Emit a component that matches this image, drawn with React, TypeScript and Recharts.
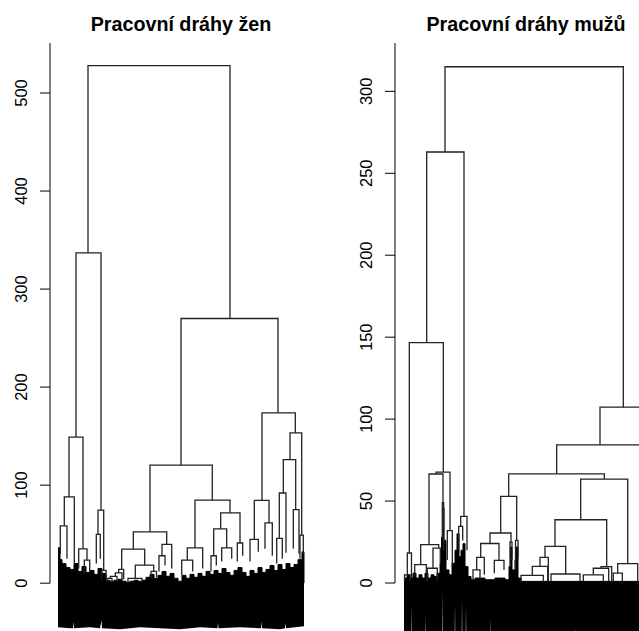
import React from 'react';
import { ComposedChart, Line, Area, XAxis, YAxis, ReferenceLine } from 'recharts';

// merges: [xLeft, xRight, height, leftChildHeight, rightChildHeight]
// x is leaf-order position, height is the merge distance
const womenMerges: number[][] = [
  [38, 180, 528, 337, 270],
  [26, 51, 337, 149, 74.5],
  [19, 33, 149, 88, 35],
  [14.3, 24.3, 88, 58.5, 20],
  [10.3, 17, 58.5, 30, 25],
  [28.7, 37, 35, 15, 23.5],
  [34.3, 39.7, 23.5, 10, 12],
  [48, 53.7, 74.5, 49.7, 13],
  [46.3, 50.3, 49.7, 20, 25],
  [51.5, 56, 13, 3, 5],
  [131, 228, 270, 120.4, 173.8],
  [100, 162.3, 120.4, 52.4, 84.7],
  [83.3, 116.7, 52.4, 34.7, 39.5],
  [71.7, 94.7, 34.7, 14, 18.4],
  [68.7, 73.7, 14, 10.5, 4],
  [65.3, 72, 10.5, 7, 3],
  [60.3, 67, 7, 5, 2],
  [57, 62, 5, 1, 1],
  [85.3, 103.7, 18.4, 5, 12],
  [78, 92, 5, 1, 1],
  [101, 106.5, 12, 5, 6],
  [112, 121.7, 39.5, 28, 15],
  [109, 115, 28, 12, 18],
  [145, 180, 84.7, 36, 71.7],
  [137.3, 152.7, 36, 23.5, 15],
  [131.7, 142.7, 23.5, 8, 12],
  [170.7, 190, 71.7, 55.4, 41],
  [163.7, 176.7, 55.4, 28, 36],
  [161, 166.3, 28, 12, 18],
  [171.7, 181.7, 36, 22, 25],
  [187.3, 192.7, 41, 22, 28],
  [212, 245.3, 173.8, 84.4, 153.4],
  [204.3, 219, 84.4, 44.6, 61.5],
  [200, 208.3, 44.6, 22, 32],
  [215, 222.3, 61.5, 35, 28],
  [240, 251.7, 153.4, 126, 49],
  [233.3, 245.7, 126, 92, 75],
  [229.3, 236, 92, 45.6, 31],
  [226.7, 232.3, 45.6, 20, 25],
  [243.3, 249, 75, 35, 30],
  [250, 253.3, 49, 25, 30],
];

const menMerges: number[][] = [
  [50, 228.3, 315, 263, 107.3],
  [31.7, 69, 263, 146.7, 40.6],
  [14.3, 48.3, 146.7, 18.3, 67.7],
  [12.3, 16.5, 18.3, 5, 3],
  [9.5, 15, 5, 1, 1],
  [41, 55, 67.7, 66.5, 32],
  [34, 48, 66.5, 23.4, 49],
  [25.7, 43.7, 23.4, 11.2, 21.3],
  [19.7, 31.3, 11.2, 4, 6],
  [38, 45.3, 21.3, 9, 12],
  [32.3, 42.3, 9, 1, 1],
  [47.3, 48.7, 49, 27, 20],
  [52.3, 57.3, 32, 14, 10],
  [65.7, 72, 40.6, 34.5, 20],
  [63.7, 67.7, 34.5, 20, 26],
  [205, 251.6, 107.3, 84.3, 60],
  [161.7, 248.3, 84.3, 66.6, 40],
  [113.7, 209.3, 66.6, 52.8, 63.4],
  [105.7, 121.7, 52.8, 30.5, 26],
  [95, 116, 30.5, 24.1, 25],
  [85.7, 104, 24.1, 15.6, 13.8],
  [81.7, 89.3, 15.6, 8, 5],
  [78, 85, 8, 2, 2],
  [99.3, 109, 13.8, 6, 8],
  [115, 117, 25, 10, 14],
  [120.5, 123, 26, 8, 15],
  [185.7, 232.7, 63.4, 38.6, 11.8],
  [160, 211.7, 38.6, 22.4, 10],
  [150, 170.7, 22.4, 15.6, 5.5],
  [145, 153.3, 15.6, 10.1, 1],
  [137.3, 152.7, 10.1, 4.6, 1],
  [126, 148.3, 4.6, 1, 1],
  [156, 185, 5.5, 1, 1],
  [206, 216.7, 10, 9, 1],
  [198.3, 213.7, 9, 5, 1],
  [188.3, 208.3, 5, 1, 1],
  [222.7, 242.7, 11.8, 6, 1],
  [218.3, 227.3, 6, 1, 1],
];

// dense small merges just above zero (ragged top of the leaf mass)
const womenTopX = [8, 10, 12, 16, 20, 24, 28, 32, 36, 40, 44, 48, 52, 56, 60, 64, 68, 72, 76, 80, 84, 88, 92, 96, 100, 104, 108, 112, 116, 120, 124, 128, 132, 136, 140, 144, 148, 152, 156, 160, 164, 168, 172, 176, 180, 184, 188, 192, 196, 200, 204, 208, 212, 216, 220, 224, 228, 232, 236, 240, 244, 248, 252, 254];
const womenTopH = [36, 24, 20, 16, 14, 20, 12, 17, 11, 13, 9, 15, 10, 3, 2, 3, 4, 2, 1, 2, 3, 2, 3, 6, 9, 5, 8, 12, 7, 10, 5, 2, 8, 5, 9, 6, 10, 7, 12, 9, 13, 10, 15, 11, 8, 13, 16, 11, 7, 13, 10, 16, 11, 14, 18, 13, 19, 14, 20, 16, 19, 24, 32, 0];

const menTopX = [9, 12, 15, 18, 21, 24, 27, 30, 33, 36, 39, 42, 45, 46.5, 48, 49, 51, 54, 57, 60, 62, 64, 66, 68, 70, 73, 76, 80, 90, 100, 110, 114, 115.5, 117, 120, 121.5, 123, 126, 263];
const menTopH = [3, 5, 3, 6, 3, 5, 3, 6, 3, 5, 4, 6, 12, 28, 46, 26, 8, 5, 12, 20, 30, 16, 20, 24, 10, 4, 2, 3, 2, 3, 2, 10, 22, 8, 14, 22, 3, 1, 1];

// hanging leaves below zero: outline of the bottom edge
const womenBodyX = [8, 20, 23, 23.5, 24, 40, 50, 51.5, 52, 70, 90, 110, 130, 150, 167.5, 168, 168.5, 190, 211, 211.5, 212, 230, 235, 235.5, 236, 254];
const womenBodyBottom = [-45, -46, -46, -39, -46, -45, -46, -38, -46, -47, -45, -46, -47, -45, -46, -40, -46, -45, -46, -39, -46, -47, -46, -40, -46, -44];

const menBodyX = [9, 16.4, 16.7, 17, 30.4, 30.7, 31, 47, 47.3, 47.6, 59.7, 60, 60.3, 66.7, 67, 67.3, 70.7, 71, 71.3, 95, 95.3, 95.6, 180, 180.3, 180.6, 263];
const menBodyBottom = [-36, -36, -14, -36, -36, -20, -36, -36, -5, -36, -36, -12, -36, -36, -10, -36, -36, -13, -36, -36, -22, -36, -36, -28, -36, -36];

const womenTicks = [0, 100, 200, 300, 400, 500];
const menTicks = [0, 50, 100, 150, 200, 250, 300];

const FONT = '"Liberation Sans", Arial, Helvetica, sans-serif';

const VerticalTick = (props: any) => {
  const { y, payload } = props;
  return (
    <text x={27} y={y} transform={`rotate(-90 27 ${y})`} textAnchor="middle" fontSize={16.4} fontFamily={FONT} fill="#000">
      {payload.value}
    </text>
  );
};

interface DendroProps {
  merges: number[][];
  topX: number[];
  topH: number[];
  bodyX: number[];
  bodyBottom: number[];
  ticks: number[];
  yDomain: [number, number];
}

const Dendrogram: React.FC<DendroProps> = ({ merges, topX, topH, bodyX, bodyBottom, ticks, yDomain }) => {
  const top = topX.map((x, i) => ({ x, band: [-2, topH[i]] }));
  const body = bodyX.map((x, i) => ({ x, band: [bodyBottom[i], 0.5] }));
  return (
    <ComposedChart width={330} height={642} margin={{ top: 43, right: 17, bottom: 0, left: 0 }}>
      <XAxis type="number" dataKey="x" domain={[0, 263]} hide height={0} allowDataOverflow />
      <YAxis
        type="number"
        domain={yDomain}
        ticks={ticks}
        width={50}
        allowDataOverflow
        axisLine={false}
        tickLine={{ stroke: '#000', strokeWidth: 1 }}
        tickSize={10}
        tick={<VerticalTick />}
        interval={0}
      />
      <Area data={body} dataKey="band" type="linear" stroke="none" fill="#000" fillOpacity={1} dot={false} activeDot={false} isAnimationActive={false} />
      <Area data={top} dataKey="band" type="stepAfter" stroke="#000" strokeWidth={1} fill="#000" fillOpacity={1} dot={false} activeDot={false} isAnimationActive={false} />
      {merges.map((m, i) => (
        <Line
          key={i}
          data={[
            { x: m[0], y: m[3] },
            { x: m[0], y: m[2] },
            { x: m[1], y: m[2] },
            { x: m[1], y: m[4] },
          ]}
          dataKey="y"
          type="linear"
          stroke="#222"
          strokeWidth={1.3}
          dot={false}
          activeDot={false}
          isAnimationActive={false}
        />
      ))}
      <ReferenceLine segment={[{ x: 0, y: 0 }, { x: 0, y: yDomain[1] }]} stroke="#000" strokeWidth={1} ifOverflow="visible" />
    </ComposedChart>
  );
};

const App: React.FC = () => {
  return (
    <div style={{ position: 'fixed', left: 0, top: 0, width: 639, height: 631, overflow: 'hidden', background: '#fff' }}>
      <div style={{ position: 'absolute', left: 0, top: 0 }}>
        <Dendrogram merges={womenMerges} topX={womenTopX} topH={womenTopH} bodyX={womenBodyX} bodyBottom={womenBodyBottom} ticks={womenTicks} yDomain={[-60, 551]} />
      </div>
      <div style={{ position: 'absolute', left: 345, top: 0 }}>
        <Dendrogram merges={menMerges} topX={menTopX} topH={menTopH} bodyX={menBodyX} bodyBottom={menBodyBottom} ticks={menTicks} yDomain={[-36, 329.5]} />
      </div>
      <svg width={639} height={40} style={{ position: 'absolute', left: 0, top: 0 }}>
        <text x={181} y={30.7} textAnchor="middle" fontSize={19.7} fontWeight="bold" fontFamily={FONT} fill="#000">
          Pracovní dráhy žen
        </text>
        <text x={526} y={30.7} textAnchor="middle" fontSize={19.7} fontWeight="bold" fontFamily={FONT} fill="#000">
          Pracovní dráhy mužů
        </text>
      </svg>
    </div>
  );
};

export default App;
